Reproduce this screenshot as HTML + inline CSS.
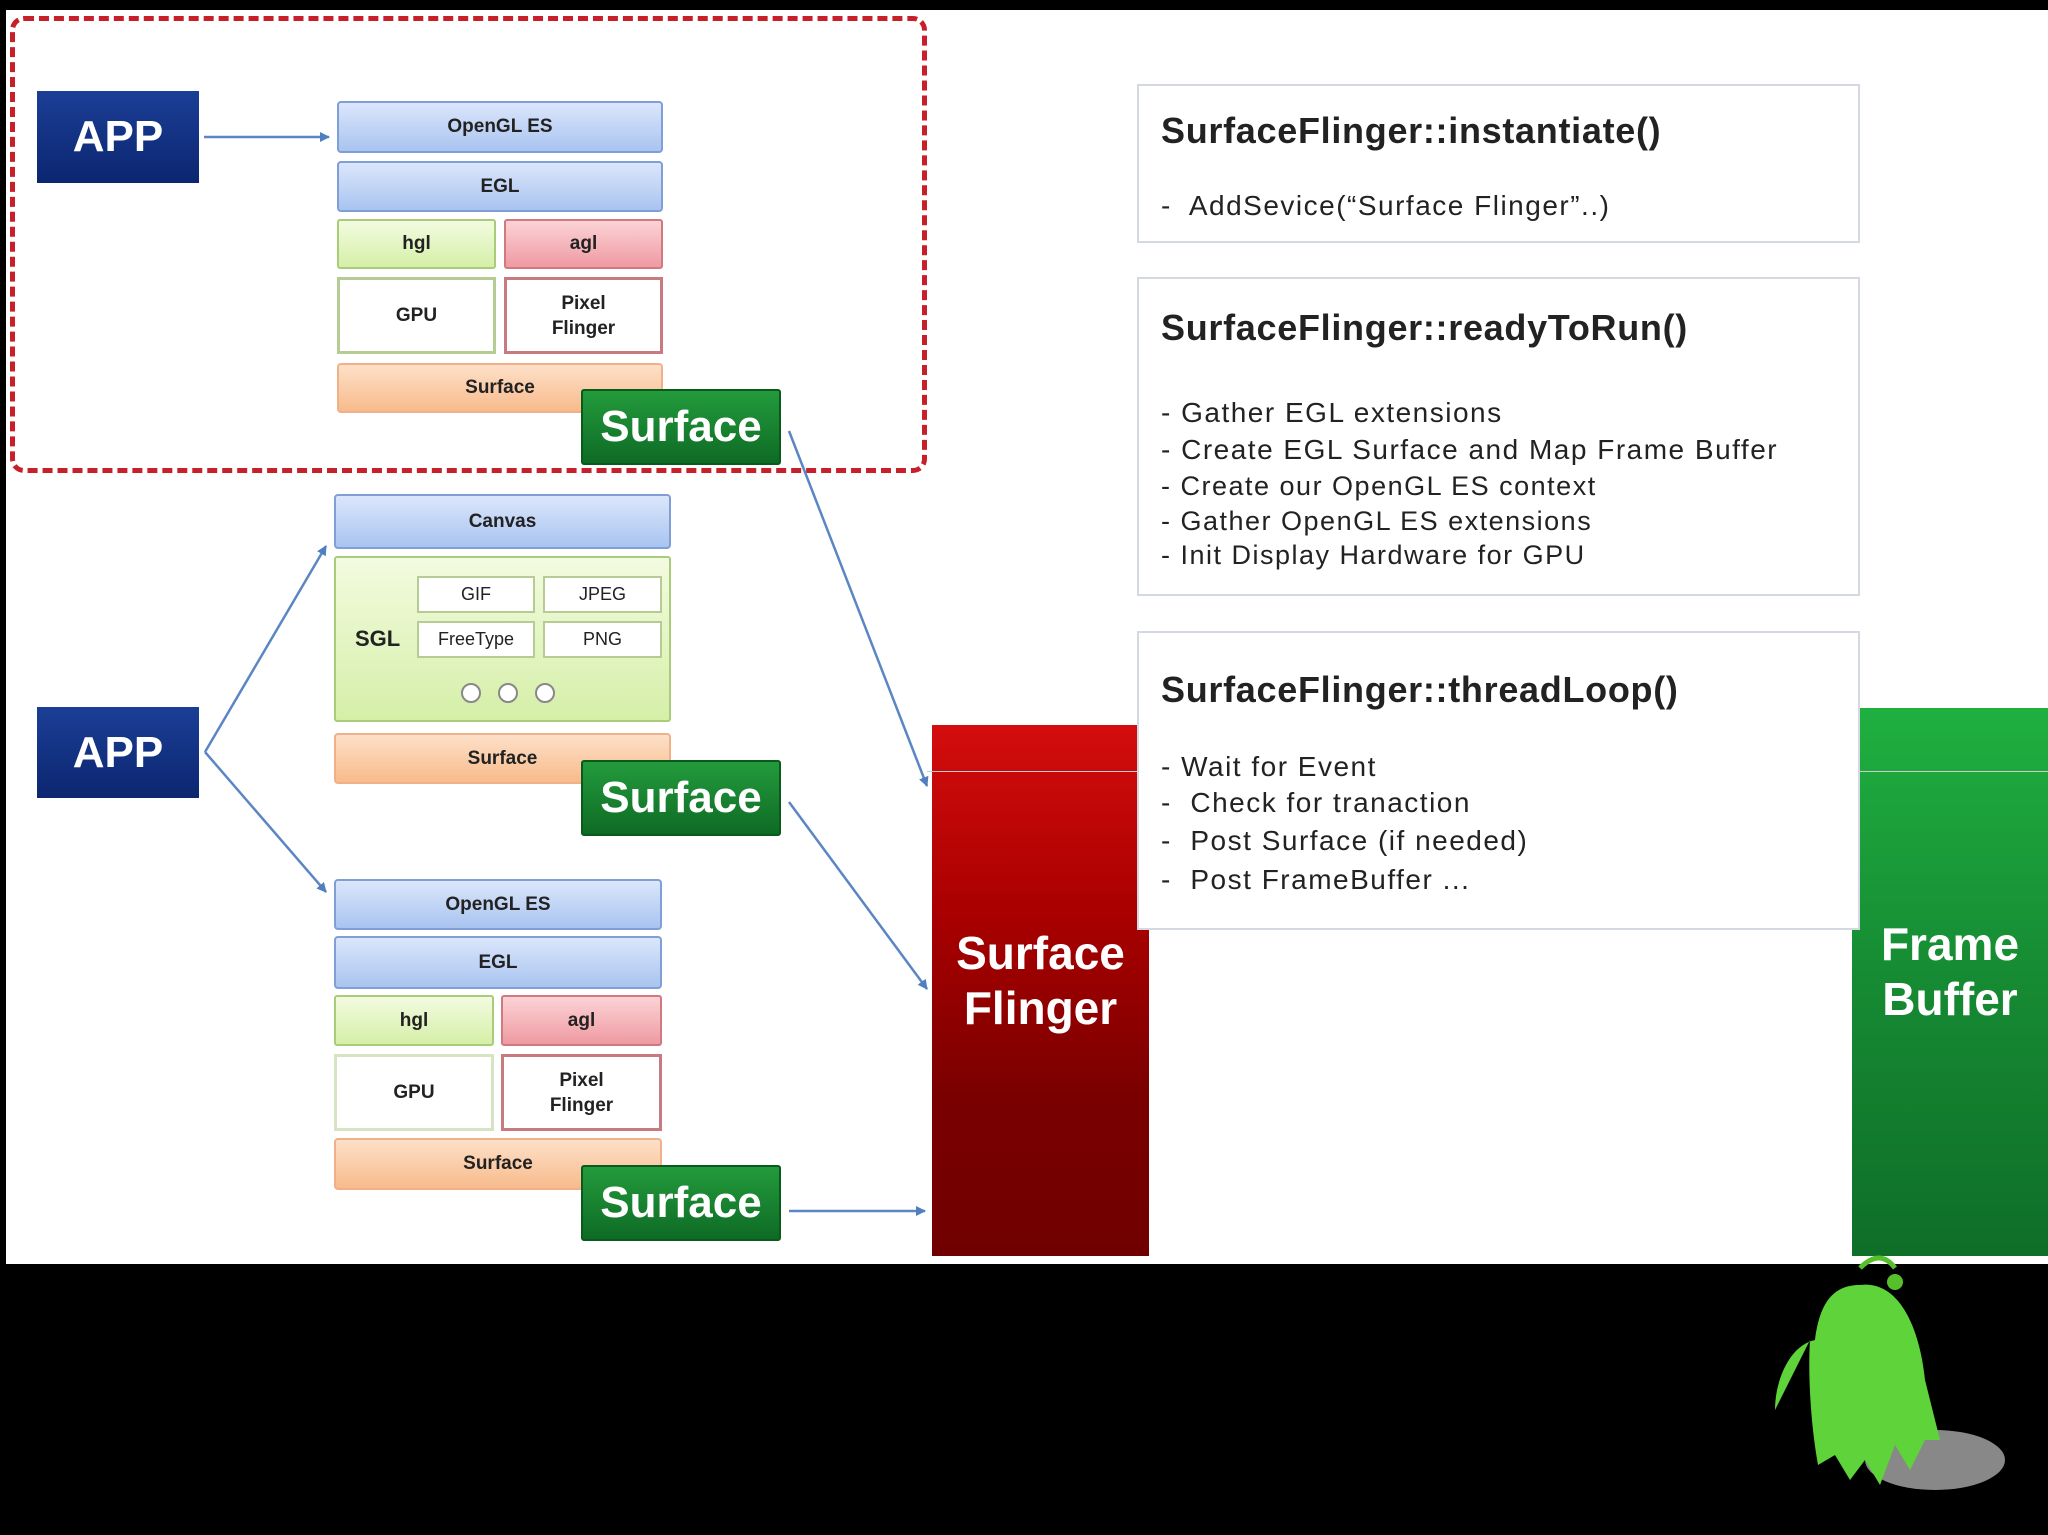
<!DOCTYPE html>
<html><head><meta charset="utf-8"><style>
body{margin:0;width:2048px;height:1535px;background:#000;position:relative;overflow:hidden;font-family:"Liberation Sans",sans-serif}
.a{position:absolute;box-sizing:border-box;display:flex;align-items:center;justify-content:center;text-align:center}
.b{background:linear-gradient(#dbe6fb,#a9c4f0);border:2px solid #7f9fd6;border-radius:4px;font-weight:bold;font-size:19px;color:#222}
.g{background:linear-gradient(#f3fbe0,#d5efa8);border:2px solid #a9cc7b;border-radius:3px;font-weight:bold;font-size:19px;color:#222}
.r{background:linear-gradient(#fbd3d6,#ef9aa2);border:2px solid #d07a80;border-radius:3px;font-weight:bold;font-size:19px;color:#222}
.w{background:#fff;font-weight:bold;font-size:19px;color:#222;line-height:25px}
.o{background:linear-gradient(#fde0c8,#f8bb8c);border:2px solid #f0b18a;border-radius:4px;font-weight:bold;font-size:19px;color:#222}
.sf{background:linear-gradient(#239b3c,#0e6b25);border:2px solid #0a5a1e;color:#fff;font-weight:bold;font-size:44px;border-radius:3px}
.app{background:linear-gradient(#1b3e96,#0c2670);color:#fff;font-weight:bold;font-size:44px}
.box{position:absolute;box-sizing:border-box;background:#fff;border:2px solid #d4d8e0;padding-left:23px;color:#222}
.box h{display:block;font-weight:bold;font-size:36px;position:absolute;left:22px;letter-spacing:0.7px}
.box p{margin:0;position:absolute;left:22px;font-size:28px;white-space:nowrap;letter-spacing:1.5px}
</style></head><body>
<div style="position:absolute;left:6px;top:10px;width:2042px;height:1254px;background:#fff"></div>
<div style="position:absolute;left:10px;top:16px;width:917px;height:457px;border:5px dashed #c8202a;border-radius:14px;box-sizing:border-box"></div>

<div class="a app" style="left:37px;top:91px;width:162px;height:92px">APP</div>
<div class="a app" style="left:37px;top:707px;width:162px;height:91px">APP</div>

<div class="a b" style="left:337px;top:101px;width:326px;height:52px">OpenGL ES</div>
<div class="a b" style="left:337px;top:161px;width:326px;height:51px">EGL</div>
<div class="a g" style="left:337px;top:219px;width:159px;height:50px">hgl</div>
<div class="a r" style="left:504px;top:219px;width:159px;height:50px">agl</div>
<div class="a w" style="left:337px;top:277px;width:159px;height:77px;border:3px solid #b7cc94">GPU</div>
<div class="a w" style="left:504px;top:277px;width:159px;height:77px;border:3px solid #c97a80">Pixel<br>Flinger</div>
<div class="a o" style="left:337px;top:363px;width:326px;height:50px">Surface</div>
<div class="a sf" style="left:581px;top:389px;width:200px;height:76px">Surface</div>

<div class="a b" style="left:334px;top:494px;width:337px;height:55px">Canvas</div>
<div class="a g" style="left:334px;top:556px;width:337px;height:166px;justify-content:flex-start;padding-left:19px;font-size:22px">SGL</div>
<div class="a w" style="left:417px;top:576px;width:118px;height:37px;border:2px solid #b7cc94;font-weight:normal;font-size:18px">GIF</div>
<div class="a w" style="left:543px;top:576px;width:119px;height:37px;border:2px solid #b7cc94;font-weight:normal;font-size:18px">JPEG</div>
<div class="a w" style="left:417px;top:621px;width:118px;height:37px;border:2px solid #b7cc94;font-weight:normal;font-size:18px">FreeType</div>
<div class="a w" style="left:543px;top:621px;width:119px;height:37px;border:2px solid #b7cc94;font-weight:normal;font-size:18px">PNG</div>
<div class="a o" style="left:334px;top:733px;width:337px;height:51px">Surface</div>
<div class="a sf" style="left:581px;top:760px;width:200px;height:76px">Surface</div>

<div class="a b" style="left:334px;top:879px;width:328px;height:51px">OpenGL ES</div>
<div class="a b" style="left:334px;top:936px;width:328px;height:53px">EGL</div>
<div class="a g" style="left:334px;top:995px;width:160px;height:51px">hgl</div>
<div class="a r" style="left:501px;top:995px;width:161px;height:51px">agl</div>
<div class="a w" style="left:334px;top:1054px;width:160px;height:77px;border:3px solid #d7e4c4">GPU</div>
<div class="a w" style="left:501px;top:1054px;width:161px;height:77px;border:3px solid #c97a80">Pixel<br>Flinger</div>
<div class="a o" style="left:334px;top:1138px;width:328px;height:52px">Surface</div>
<div class="a sf" style="left:581px;top:1165px;width:200px;height:76px">Surface</div>

<div class="a" style="left:932px;top:725px;width:217px;height:531px;background:linear-gradient(#d40d0d 0%,#a00 35%,#7a0000 70%,#700000);color:#fff;font-weight:bold;font-size:46px;line-height:55px;padding-bottom:20px">Surface<br>Flinger</div>
<div class="a" style="left:1852px;top:708px;width:196px;height:548px;background:linear-gradient(#1fb040 0%,#168a33 50%,#0f6e28);color:#fff;font-weight:bold;font-size:46px;line-height:55px;padding-bottom:20px">Frame<br>Buffer</div>
<div style="position:absolute;left:927px;top:771px;width:1121px;height:1px;background:#ccc"></div>

<div class="box" style="left:1137px;top:84px;width:723px;height:159px">
<h style="top:24px">SurfaceFlinger::instantiate()</h>
<p style="top:104px">-&nbsp; AddSevice(“Surface Flinger”..)</p></div>
<div class="box" style="left:1137px;top:277px;width:723px;height:319px">
<h style="top:28px">SurfaceFlinger::readyToRun()</h>
<p style="top:118px">- Gather EGL extensions</p>
<p style="top:155px">- Create EGL Surface and Map Frame Buffer</p>
<p style="top:192px;font-size:27px">- Create our OpenGL ES context</p>
<p style="top:227px;font-size:27px">- Gather OpenGL ES extensions</p>
<p style="top:261px;font-size:27px">- Init Display Hardware for GPU</p></div>
<div class="box" style="left:1137px;top:631px;width:723px;height:299px">
<h style="top:36px">SurfaceFlinger::threadLoop()</h>
<p style="top:118px">- Wait for Event</p>
<p style="top:154px">-&nbsp; Check for tranaction</p>
<p style="top:192px">-&nbsp; Post Surface (if needed)</p>
<p style="top:231px">-&nbsp; Post FrameBuffer ...</p></div>

<svg width="2048" height="1535" style="position:absolute;left:0;top:0">
<defs><marker id="m" markerWidth="10" markerHeight="10" refX="9" refY="5" orient="auto" markerUnits="userSpaceOnUse"><path d="M0,0 L10,5 L0,10 z" fill="#4f7fc0"/></marker></defs>
<g stroke="#5b86c4" stroke-width="2.5" fill="none" marker-end="url(#m)">
<line x1="204" y1="137" x2="329" y2="137"/>
<line x1="205" y1="752" x2="326" y2="546"/>
<line x1="205" y1="752" x2="326" y2="892"/>
<line x1="789" y1="431" x2="927" y2="786"/>
<line x1="789" y1="802" x2="927" y2="989"/>
<line x1="789" y1="1211" x2="925" y2="1211"/>
</g>
<g fill="#fff" stroke="#888" stroke-width="2"><circle cx="471" cy="693" r="9"/><circle cx="508" cy="693" r="9"/><circle cx="545" cy="693" r="9"/></g>
<ellipse cx="1935" cy="1460" rx="70" ry="30" fill="#aaa" opacity="0.8"/>
<path d="M1860,1268 q20,-20 35,0" stroke="#55c02a" stroke-width="5" fill="none"/>
<circle cx="1895" cy="1282" r="8" fill="#55c02a"/>
<path d="M1860,1285 C1900,1280 1920,1330 1925,1380 L1940,1440 L1925,1440 L1910,1470 L1895,1445 L1880,1485 L1865,1460 L1850,1480 L1835,1455 L1818,1465 C1810,1420 1808,1370 1810,1340 L1775,1410 C1775,1380 1790,1345 1815,1340 C1820,1300 1835,1285 1860,1285 z" fill="#5fd33a"/>
</svg>
</body></html>
